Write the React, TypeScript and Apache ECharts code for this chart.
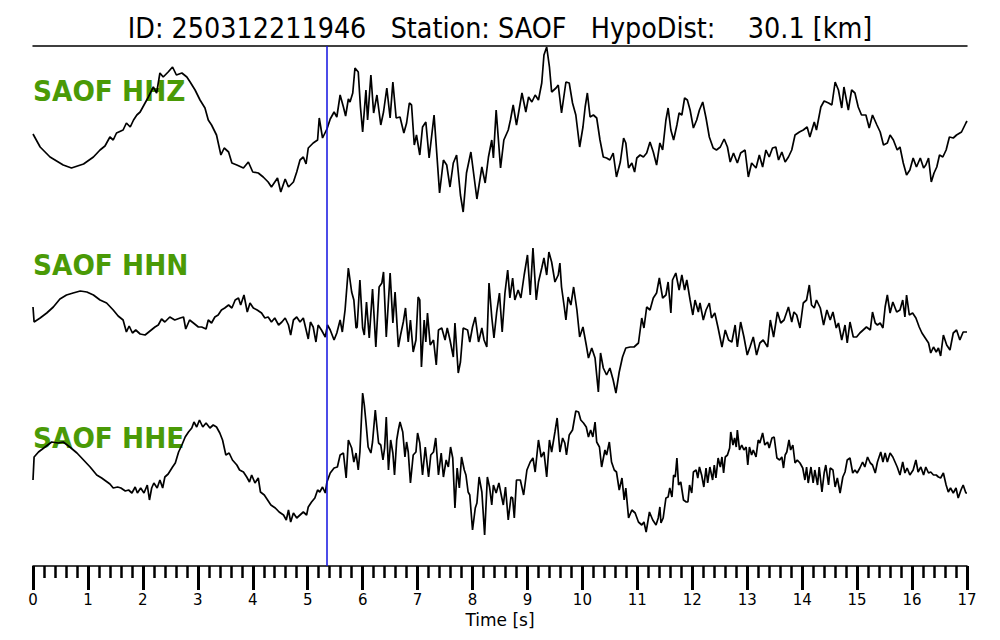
import React, { useEffect, useRef } from "react";
import * as echarts from "echarts";

// Time ticks (s)
const tickLabels = ["0","1","2","3","4","5","6","7","8","9","10","11","12","13","14","15","16","17"];
const pickTime = 5.35;
const titleText = "ID: 250312211946   Station: SAOF   HypoDist:    30.1 [km]";
const traceNames = ["SAOF HHZ", "SAOF HHN", "SAOF HHE"];

// [time s, relative amplitude]
const hhz = [
[0,-4],[0.13,-17],[0.31,-27],[0.55,-35],[0.70,-38],[0.92,-34],[1.10,-27],[1.22,-20],[1.31,-16],[1.40,-7],[1.46,-10],[1.52,-3],[1.64,0],[1.70,7],[1.77,3],[1.83,10],[1.89,15],[1.95,18],[2.04,27],[2.10,33],[2.19,43],[2.25,37],[2.31,57],[2.37,53],[2.46,58],[2.54,63],[2.61,55],[2.71,57],[2.80,53],[2.86,48],[2.95,40],[3.04,30],[3.13,22],[3.19,10],[3.25,5],[3.34,-5],[3.42,-25],[3.48,-18],[3.56,-22],[3.62,-33],[3.71,-35],[3.83,-38],[3.92,-32],[4.00,-42],[4.10,-43],[4.19,-47],[4.28,-52],[4.34,-57],[4.45,-48],[4.51,-62],[4.59,-49],[4.65,-57],[4.74,-52],[4.80,-42],[4.86,-30],[4.92,-27],[4.97,-34],[5.01,-18],[5.10,-13],[5.18,-10],[5.21,12],[5.27,-8],[5.35,1],[5.41,11],[5.48,18],[5.53,13],[5.59,35],[5.65,23],[5.69,14],[5.74,31],
[5.77,28],[5.82,37],[5.86,62],[5.92,58],[5.96,23],[6.00,-2],[6.06,40],[6.09,10],[6.15,55],[6.20,17],[6.26,35],[6.33,5],[6.38,18],[6.44,42],[6.50,12],[6.55,48],[6.61,12],[6.68,13],[6.75,-3],[6.80,7],[6.85,27],[6.89,25],[6.94,-15],[6.98,-5],[7.04,-25],[7.09,3],[7.15,8],[7.21,-28],[7.30,15],[7.40,-63],[7.47,-30],[7.53,-35],[7.59,-57],[7.65,-33],[7.71,-25],[7.78,-65],[7.83,-82],[7.89,-43],[7.97,-22],[8.08,-69],[8.17,-37],[8.23,-53],[8.29,-27],[8.35,-10],[8.38,-28],[8.43,20],[8.51,-38],[8.57,-10],[8.65,0],[8.69,10],[8.74,25],[8.80,5],[8.90,37],[8.97,18],[9.02,33],[9.08,28],[9.14,35],[9.20,30],[9.26,47],[9.30,75],[9.35,83],[9.40,63],[9.44,38],[9.52,42],[9.56,45],[9.62,17],[9.70,48],[9.76,47],[9.82,27],[9.88,15],[9.95,-17],[10.01,3],[10.05,23],[10.09,37],[10.14,13],[10.20,15],[10.26,12],[10.32,-10],[10.38,-27],[10.44,-28],[10.50,-30],[10.56,-23],[10.62,-47],[10.69,-32],[10.75,-8],[10.79,-13],[10.84,-38],[10.90,-33],[10.95,-42],[10.99,-28],[11.05,-25],[11.11,-27],[11.17,-23],[11.23,-12],[11.29,-22],[11.35,-35],
[11.41,-13],[11.46,-20],[11.52,10],[11.56,22],[11.61,0],[11.66,-10],[11.72,5],[11.76,17],[11.81,15],[11.86,32],[11.91,30],[11.96,20],[12.02,2],[12.08,10],[12.13,20],[12.19,28],[12.25,12],[12.31,-7],[12.38,-18],[12.44,-20],[12.51,-17],[12.58,-9],[12.64,-17],[12.69,-32],[12.75,-23],[12.82,-33],[12.88,-23],[12.96,-20],[13.02,-47],[13.08,-33],[13.16,-38],[13.22,-25],[13.28,-37],[13.34,-20],[13.40,-27],[13.46,-18],[13.52,-17],[13.57,-30],[13.63,-22],[13.69,-32],[13.75,-27],[13.81,-20],[13.87,-5],[13.95,-2],[14.02,0],[14.09,3],[14.14,-7],[14.22,8],[14.26,0],[14.34,23],[14.40,29],[14.48,27],[14.54,25],[14.60,48],[14.66,40],[14.72,22],[14.76,43],[14.84,20],[14.90,40],[14.96,37],[15.02,23],[15.08,15],[15.16,15],[15.22,2],[15.28,15],[15.36,5],[15.42,-2],[15.48,-15],[15.55,-13],[15.60,-5],[15.66,-10],[15.73,-20],[15.78,-17],[15.84,-33],[15.90,-45],[15.96,-40],[16.02,-28],[16.08,-37],[16.15,-28],[16.21,-38],[16.25,-35],[16.30,-28],[16.35,-52],[16.40,-43],[16.45,-37],[16.50,-25],[16.56,-27],[16.62,-20],[16.68,-7],[16.75,-8],[16.81,-5],[16.90,-2],[16.98,7],[17,9]
];

const hhn = [
[0,13],[0.02,-2],[0.13,2],[0.25,7],[0.37,13],[0.49,21],[0.61,25],[0.73,27],[0.86,29],[0.98,28],[1.10,25],[1.22,20],[1.34,17],[1.46,10],[1.55,4],[1.64,0],[1.70,-12],[1.75,-6],[1.81,-13],[1.87,-10],[1.95,-14],[2.04,-15],[2.13,-11],[2.22,-7],[2.28,-5],[2.34,1],[2.40,-2],[2.49,3],[2.58,0],[2.68,2],[2.74,3],[2.78,-9],[2.85,0],[2.92,-3],[3.01,-7],[3.07,-7],[3.15,-9],[3.19,0],[3.25,-3],[3.31,3],[3.37,5],[3.43,10],[3.49,12],[3.56,15],[3.62,12],[3.68,20],[3.74,22],[3.78,15],[3.84,25],[3.90,8],[3.95,17],[4.01,12],[4.08,10],[4.16,7],[4.22,2],[4.28,3],[4.34,-2],[4.40,2],[4.47,-5],[4.53,-2],[4.59,2],[4.65,-5],[4.69,-15],[4.74,0],[4.80,3],[4.86,-2],[4.92,2],[5.01,-19],[5.05,-2],[5.10,-7],[5.15,-22],[5.19,-5],[5.25,-10],[5.32,-17],[5.36,-5],[5.41,-10],[5.48,-20],[5.53,-13],[5.59,0],[5.63,-12],[5.68,10],
[5.74,52],[5.80,28],[5.84,20],[5.88,-8],[5.90,-7],[5.95,40],[6.00,-8],[6.03,-15],[6.07,18],[6.12,-18],[6.18,31],[6.24,-27],[6.30,33],[6.35,37],[6.38,48],[6.43,-17],[6.50,47],[6.55,-3],[6.59,28],[6.65,-27],[6.69,-15],[6.74,-2],[6.78,12],[6.83,-22],[6.87,0],[6.92,-32],[6.97,-20],[7.01,23],[7.04,20],[7.07,-47],[7.12,0],[7.15,-22],[7.18,7],[7.23,-25],[7.29,-20],[7.34,-45],[7.38,-10],[7.44,-8],[7.50,-20],[7.54,-8],[7.59,-20],[7.65,-37],[7.68,-3],[7.74,-53],[7.78,-42],[7.83,-8],[7.91,-10],[7.95,-22],[8.00,-7],[8.05,3],[8.11,-22],[8.17,-8],[8.21,-20],[8.26,-27],[8.30,37],[8.35,3],[8.39,-18],[8.44,8],[8.49,27],[8.54,-12],[8.59,27],[8.64,50],[8.68,22],[8.73,42],[8.77,20],[8.83,30],[8.88,22],[8.94,45],[9.00,65],[9.05,25],[9.10,72],[9.16,20],[9.20,38],[9.26,52],[9.30,62],[9.35,45],[9.39,68],[9.44,58],[9.50,38],[9.56,45],[9.59,57],[9.62,33],[9.67,13],[9.70,0],[9.74,23],[9.79,15],[9.84,33],[9.90,10],[9.95,-17],[10.01,-7],[10.07,-25],[10.11,-38],[10.17,-28],[10.23,-38],[10.29,-72],[10.33,-33],[10.38,-48],[10.44,-55],[10.50,-48],[10.56,-60],[10.61,-73],[10.67,-52],[10.73,-37],[10.79,-28],[10.87,-27],[10.94,-27],[11.02,-23],[11.08,2],[11.12,-8],[11.17,13],[11.23,10],[11.29,22],[11.35,27],[11.40,42],
[11.46,22],[11.52,25],[11.56,38],[11.61,7],[11.64,40],[11.70,47],[11.76,30],[11.81,45],[11.86,30],[11.90,40],[11.96,20],[12.01,5],[12.05,20],[12.11,8],[12.14,17],[12.20,0],[12.25,10],[12.31,17],[12.35,2],[12.41,7],[12.47,-8],[12.54,-27],[12.60,-10],[12.66,-20],[12.72,-22],[12.78,-5],[12.82,-27],[12.88,-2],[12.94,-17],[13.00,-35],[13.05,-27],[13.11,-17],[13.17,-35],[13.23,-23],[13.29,-20],[13.37,-27],[13.42,0],[13.48,-17],[13.55,8],[13.61,-3],[13.67,0],[13.75,13],[13.81,-2],[13.85,8],[13.90,5],[13.96,-8],[14.02,17],[14.08,20],[14.13,35],[14.17,15],[14.22,12],[14.26,20],[14.33,12],[14.39,-5],[14.45,10],[14.51,0],[14.56,8],[14.62,-8],[14.66,-3],[14.72,-20],[14.78,-5],[14.82,-23],[14.87,-2],[14.93,-17],[14.99,-17],[15.05,-13],[15.11,-10],[15.17,-7],[15.24,-10],[15.28,8],[15.33,-3],[15.37,-5],[15.42,-3],[15.47,-8],[15.51,13],[15.55,25],[15.60,7],[15.65,18],[15.72,8],[15.78,10],[15.83,20],[15.87,3],[15.90,25],[15.95,5],[16.01,7],[16.07,2],[16.13,-7],[16.18,-13],[16.24,-18],[16.30,-23],[16.34,-33],[16.39,-27],[16.44,-32],[16.48,-28],[16.52,-36],[16.57,-15],[16.63,-25],[16.69,-30],[16.75,-13],[16.81,-10],[16.87,-20],[16.93,-12],[17,-12]
];

const hhe = [
[0,-17],[0.02,6],[0.10,11],[0.22,16],[0.34,21],[0.46,20],[0.55,21],[0.67,16],[0.80,10],[0.92,3],[1.04,-4],[1.16,-12],[1.25,-15],[1.35,-19],[1.40,-21],[1.46,-25],[1.54,-24],[1.60,-25],[1.68,-28],[1.74,-27],[1.80,-30],[1.86,-24],[1.90,-30],[1.96,-25],[2.02,-30],[2.08,-22],[2.12,-37],[2.16,-25],[2.20,-20],[2.26,-25],[2.31,-17],[2.36,-25],[2.40,-14],[2.46,-11],[2.54,-4],[2.59,0],[2.65,11],[2.71,18],[2.77,26],[2.83,31],[2.89,35],[2.93,41],[2.98,36],[3.03,43],[3.09,36],[3.15,40],[3.22,35],[3.28,38],[3.34,36],[3.40,30],[3.45,23],[3.51,8],[3.57,10],[3.63,3],[3.71,-2],[3.76,-7],[3.83,-9],[3.89,-14],[3.94,-19],[3.98,-12],[4.04,-20],[4.10,-15],[4.14,-29],[4.21,-32],[4.27,-37],[4.33,-42],[4.41,-45],[4.48,-49],[4.56,-52],[4.61,-57],[4.65,-47],[4.69,-59],[4.74,-50],[4.80,-55],[4.86,-52],[4.92,-49],[4.98,-52],[5.01,-44],[5.07,-39],[5.13,-35],[5.18,-27],[5.22,-29],[5.27,-24],[5.32,-30],[5.35,-19],[5.41,-10],[5.48,-5],[5.54,-4],[5.59,8],[5.65,10],[5.70,-15],[5.74,23],
[5.80,15],[5.84,1],[5.88,10],[5.92,-7],[5.95,11],[6.00,70],[6.03,58],[6.06,41],[6.10,16],[6.15,10],[6.18,21],[6.23,53],[6.26,36],[6.29,20],[6.33,18],[6.37,3],[6.40,15],[6.43,46],[6.47,-7],[6.51,23],[6.55,10],[6.58,-12],[6.62,23],[6.65,33],[6.68,41],[6.73,31],[6.77,6],[6.80,21],[6.83,11],[6.87,-20],[6.92,8],[6.97,11],[7.00,30],[7.04,20],[7.09,-12],[7.14,16],[7.20,-14],[7.24,8],[7.29,11],[7.33,25],[7.38,-12],[7.43,10],[7.47,-14],[7.52,3],[7.56,-4],[7.60,16],[7.64,5],[7.68,-45],[7.72,-5],[7.76,-25],[7.80,6],[7.85,-7],[7.88,-12],[7.92,-29],[7.95,-32],[8.00,-67],[8.05,-45],[8.08,-40],[8.12,-14],[8.17,-29],[8.22,-72],[8.27,-14],[8.31,-24],[8.35,-42],[8.38,-22],[8.43,-30],[8.48,-20],[8.53,-34],[8.56,-42],[8.60,-24],[8.65,-57],[8.70,-34],[8.73,-35],[8.76,-55],[8.80,-17],[8.87,-17],[8.93,-32],[8.99,-7],[9.05,1],[9.10,5],[9.14,-9],[9.20,23],[9.25,6],[9.30,11],[9.35,-14],[9.40,23],[9.44,11],[9.50,31],[9.54,45],[9.59,11],[9.64,25],[9.68,20],[9.71,8],[9.76,28],[9.82,33],[9.88,52],[9.93,51],[9.97,43],[10.02,40],[10.07,36],[10.11,26],[10.15,33],[10.19,26],[10.23,41],[10.26,21],[10.31,16],[10.35,-4],[10.41,13],[10.44,8],[10.49,21],[10.53,1],[10.58,-7],[10.62,-9],[10.67,-27],[10.72,-15],[10.76,-37],[10.79,-25],[10.84,-55],[10.90,-47],[10.96,-50],[11.02,-59],[11.08,-62],[11.12,-59],[11.16,-69],[11.22,-49],[11.28,-57],[11.34,-62],[11.38,-55],[11.41,-44],
[11.43,-60],[11.47,-55],[11.52,-35],[11.56,-34],[11.59,-25],[11.63,-34],[11.66,-12],[11.69,-14],[11.72,5],[11.75,-22],[11.79,-19],[11.84,-37],[11.89,-39],[11.92,-39],[11.95,-22],[11.99,-30],[12.02,-9],[12.07,-7],[12.10,-15],[12.13,-4],[12.17,-12],[12.21,-24],[12.25,-5],[12.28,-20],[12.32,-4],[12.37,-17],[12.40,-2],[12.43,-15],[12.47,5],[12.51,-4],[12.54,6],[12.57,-10],[12.60,6],[12.64,8],[12.68,15],[12.70,31],[12.74,18],[12.77,25],[12.80,16],[12.82,33],[12.86,13],[12.90,18],[12.94,13],[12.98,16],[13.01,-2],[13.04,16],[13.08,8],[13.11,13],[13.16,6],[13.20,23],[13.23,20],[13.28,30],[13.32,18],[13.37,21],[13.40,15],[13.45,25],[13.49,26],[13.54,5],[13.59,3],[13.63,6],[13.66,-5],[13.69,8],[13.72,11],[13.76,23],[13.79,13],[13.83,18],[13.87,0],[13.91,3],[13.96,0],[14.01,-5],[14.05,-17],[14.08,-4],[14.11,-20],[14.16,-4],[14.20,-20],[14.23,-7],[14.28,-22],[14.31,-4],[14.36,-29],[14.40,-10],[14.43,-2],[14.48,-22],[14.51,-5],[14.56,-7],[14.60,-24],[14.64,-15],[14.69,-30],[14.74,-14],[14.78,-9],[14.82,3],[14.87,5],[14.92,-10],[14.96,-7],[15.00,-10],[15.05,-5],[15.10,1],[15.14,-4],[15.19,6],[15.24,0],[15.28,-2],[15.33,-10],[15.37,1],[15.43,11],[15.47,1],[15.51,10],[15.55,1],[15.60,10],[15.65,6],[15.69,1],[15.73,-4],[15.78,-12],[15.83,1],[15.87,-10],[15.91,-5],[15.96,-12],[16.02,-7],[16.07,3],[16.11,-9],[16.16,-4],[16.21,-12],[16.25,-4],[16.30,-10],[16.34,-9],[16.39,-12],[16.44,-12],[16.48,-14],[16.52,-15],[16.57,-10],[16.62,-22],[16.66,-29],[16.70,-25],[16.75,-30],[16.80,-25],[16.84,-35],[16.89,-27],[16.93,-22],[16.98,-30],[17,-30]
];

const traces = [hhz, hhn, hhe];
const offsets = [436, 246, 103];
const labelY = [91.5, 265, 438.5];
const GREEN = "#4a9a06";
const FONT = "DejaVu Sans";

export default function App() {
  const ref = useRef<HTMLDivElement>(null);
  useEffect(() => {
    if (!ref.current) return;
    const chart = echarts.init(ref.current, null, { renderer: "svg" });
    const series: any[] = traces.map((tr, i) => ({
      type: "line",
      name: traceNames[i],
      data: tr.map(([t, v]) => [t, v + offsets[i]]),
      showSymbol: false,
      symbol: "none",
      lineStyle: { color: "#000", width: 1.7 },
      z: 3,
      silent: true,
      markLine: i === 0 ? {
        silent: true,
        symbol: "none",
        label: { show: false },
        lineStyle: { color: "#1010e0", width: 1.5, type: "solid" },
        data: [{ xAxis: pickTime }],
      } : undefined,
    }));
    const graphics: any[] = [
      {
        type: "text",
        x: 500,
        y: 28,
        scaleX: 0.88,
        style: {
          text: titleText,
          fontFamily: FONT,
          fontSize: 29,
          fill: "#000",
          textAlign: "center",
          textVerticalAlign: "middle",
        },
      },
      ...traceNames.map((n, i) => ({
        type: "text",
        x: 33,
        y: labelY[i],
        scaleX: 0.91,
        z: 0,
        style: {
          text: n,
          fontFamily: FONT,
          fontWeight: "bold",
          fontSize: 29,
          fill: GREEN,
          textAlign: "left",
          textVerticalAlign: "middle",
        },
      })),
    ];
    chart.setOption({
      animation: false,
      backgroundColor: "#fff",
      grid: { left: 33, right: 33, top: 46, bottom: 74, containLabel: false },
      xAxis: [
        {
          type: "value",
          min: 0,
          max: 17,
          interval: 1,
          position: "bottom",
          name: "Time [s]",
          nameLocation: "middle",
          nameGap: 37,
          nameTextStyle: { fontFamily: FONT, fontSize: 17, color: "#000" },
          axisLine: { show: true, onZero: false, lineStyle: { color: "#000", width: 1.5 } },
          axisTick: { show: true, inside: false, length: 24, lineStyle: { color: "#000", width: 3 } },
          minorTick: { show: true, splitNumber: 5, length: 12, lineStyle: { color: "#000", width: 2.5 } },
          axisLabel: {
            margin: 26,
            fontFamily: FONT,
            fontSize: 15,
            color: "#000",
            formatter: (v: number) => tickLabels[Math.round(v)] ?? "",
          },
          splitLine: { show: false },
          minorSplitLine: { show: false },
        },
        {
          type: "value",
          min: 0,
          max: 17,
          position: "top",
          axisLine: { show: true, onZero: false, lineStyle: { color: "#000", width: 1.5 } },
          axisTick: { show: false },
          axisLabel: { show: false },
          splitLine: { show: false },
        },
      ],
      yAxis: { type: "value", min: 0, max: 520, show: false, splitLine: { show: false } },
      graphic: graphics,
      series,
    });
    return () => chart.dispose();
  }, []);
  return <div ref={ref} style={{ width: 1000, height: 640, position: "absolute", left: 0, top: 0 }} />;
}
